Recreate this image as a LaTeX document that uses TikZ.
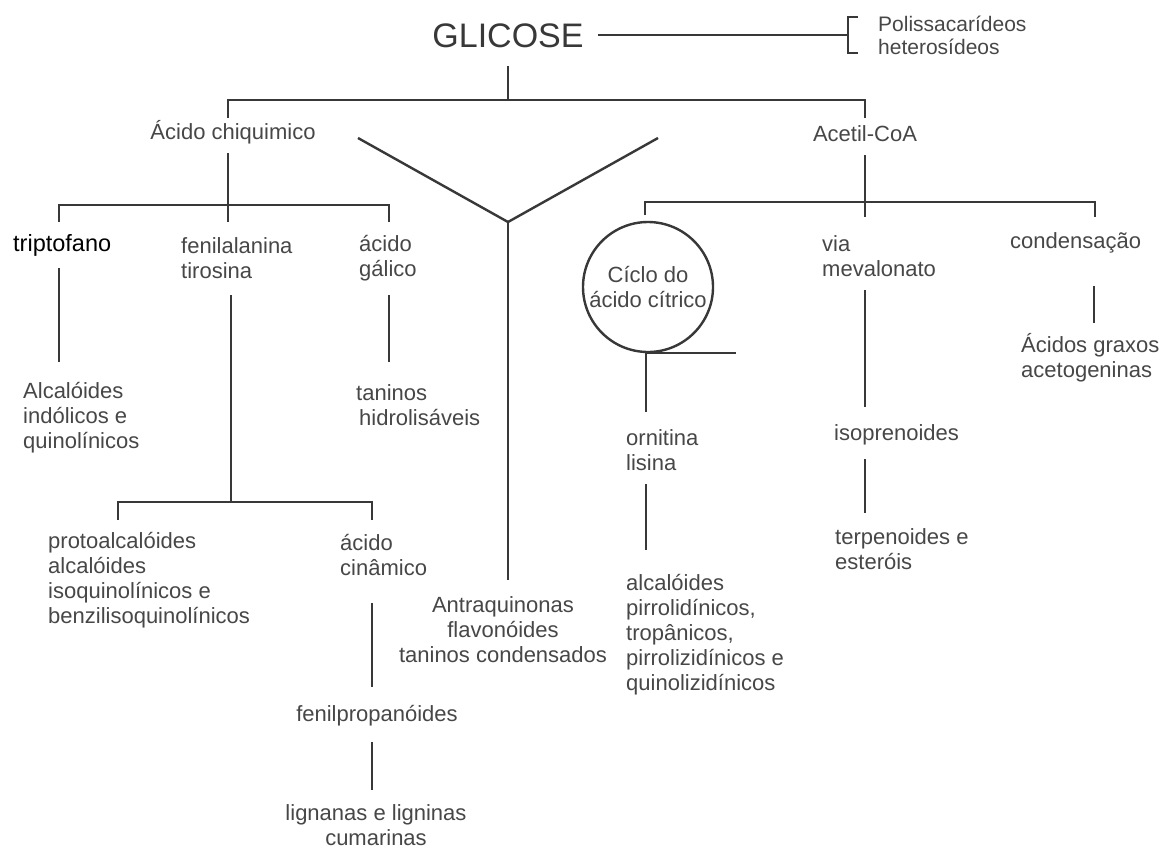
\documentclass[tikz,border=0pt]{standalone}
\usepackage{fontspec}
\setmainfont{Liberation Sans}
\definecolor{tx}{HTML}{474747}
\definecolor{lc}{HTML}{383838}
\begin{document}
\begin{tikzpicture}[x=1pt,y=-1pt,
  lbl/.style={font=\fontsize{22}{25}\selectfont, text=tx, inner sep=0pt, align=left},
  conn/.style={draw=lc, line width=2.4pt}]
\useasboundingbox[fill=white] (0,0) rectangle (1166,849);

% ---------- nodes ----------
\node[lbl, font=\fontsize{34}{36}\selectfont, text=lc] (glic) at (508,36) {GLICOSE};
\node[lbl, font=\fontsize{21}{23}\selectfont, anchor=west] (poli) at (878,35) {Polissacarídeos\\heterosídeos};
\node[lbl] (chiq) at (233,132) {Ácido chiquimico};
\node[lbl] (acetil) at (865,134) {Acetil-CoA};
\node[lbl, anchor=west, text=black, font=\fontsize{23.5}{26}\selectfont] (trip) at (13,245) {triptofano};
\node[lbl, anchor=west] (fenil) at (181,258) {fenilalanina\\tirosina};
\node[lbl, anchor=west] (galico) at (359,258) {ácido\\gálico};
\node[lbl, anchor=west] (alcind) at (23,418) {Alcalóides\\indólicos e\\quinolínicos};
\node[lbl, anchor=west] (taninos) at (356,405) {taninos\\\hspace{3pt}hidrolisáveis};
\node[lbl, anchor=west] (proto) at (48,580) {protoalcalóides\\alcalóides\\isoquinolínicos e\\benzilisoquinolínicos};
\node[lbl, anchor=west] (cinam) at (340,555) {ácido\\cinâmico};
\node[lbl] (fprop) at (377,716) {fenilpropanóides};
\node[lbl, align=center] (lign) at (376,825) {lignanas e ligninas\\cumarinas};
\node[lbl, align=center] (antra) at (503,630) {Antraquinonas\\flavonóides\\taninos condensados};
\node[lbl, align=center, circle, draw=lc, line width=2.4pt, minimum size=130pt] (ciclo) at (648,287) {Cíclo do\\ácido cítrico};
\node[lbl, anchor=west] (orn) at (626,450) {ornitina\\lisina};
\node[lbl, anchor=west] (alcpir) at (626,635) {alcalóides\\pirrolidínicos,\\tropânicos,\\pirrolizidínicos e\\quinolizidínicos};
\node[lbl, anchor=west] (via) at (822,256) {via\\mevalonato};
\node[lbl, anchor=west] (iso) at (834,435) {isoprenoides};
\node[lbl, anchor=west] (terp) at (835,549) {terpenoides e\\esteróis};
\node[lbl, anchor=west] (cond) at (1010,243) {condensação};
\node[lbl, anchor=west] (graxos) at (1021,358) {Ácidos graxos\\acetogeninas};

% ---------- coordinates ----------
\coordinate (gE) at (598,35);
\coordinate (bT) at (858,17);
\coordinate (bM) at (848,35);
\coordinate (bB) at (858,53);
\coordinate (gS) at (508,66);
\coordinate (topM) at (508,100);
\coordinate (topL) at (228,118);
\coordinate (topR) at (865,118);
\coordinate (chS) at (228,153);
\coordinate (b2M) at (228,222);
\coordinate (b2L) at (59,222);
\coordinate (b2R) at (389,222);
\coordinate (trS) at (59,268);
\coordinate (alN) at (59,362);
\coordinate (feS) at (231,295);
\coordinate (b3M) at (231,502);
\coordinate (b3L) at (118,520);
\coordinate (b3R) at (372,520);
\coordinate (gaS) at (389,295);
\coordinate (taN) at (389,362);
\coordinate (ciS) at (372,603);
\coordinate (fpN) at (372,687);
\coordinate (fpS) at (372,742);
\coordinate (liN) at (372,790);
\coordinate (yL) at (358,138);
\coordinate (yR) at (658,138);
\coordinate (yM) at (508,222);
\coordinate (anN) at (508,580);
\coordinate (acS) at (865,155);
\coordinate (b4M) at (865,217);
\coordinate (b4L) at (645,215);
\coordinate (b4R) at (1095,217);
\coordinate (viS) at (865,290);
\coordinate (isN) at (865,407);
\coordinate (coS) at (1094,286);
\coordinate (grN) at (1094,323);
\coordinate (cyB) at (646,353);
\coordinate (cyR) at (736,353);
\coordinate (orN) at (646,412);
\coordinate (orS) at (646,484);
\coordinate (apN) at (646,550);
\coordinate (isS) at (865,459);
\coordinate (teN) at (865,513);

% ---------- connectors ----------
\draw[conn] (gE) -- (bM);
\draw[conn] (bT) -- (848,17) -- (848,53) -- (bB);
\draw[conn] (gS) -- (topM);
\draw[conn] (topL) |- (topM) -| (topR);
\draw[conn] (chS) -- (b2M);
\draw[conn] (b2L) |- (228,205) -| (b2R);
\draw[conn] (trS) -- (alN);
\draw[conn] (feS) -- (b3M);
\draw[conn] (b3L) |- (b3M) -| (b3R);
\draw[conn] (gaS) -- (taN);
\draw[conn] (ciS) -- (fpN);
\draw[conn] (fpS) -- (liN);
\draw[conn] (yL) -- (yM) -- (yR);
\draw[conn] (yM) -- (anN);
\draw[conn] (acS) -- (b4M);
\draw[conn] (b4L) |- (865,202) -| (b4R);
\draw[conn] (viS) -- (isN);
\draw[conn] (coS) -- (grN);
\draw[conn] (cyB) -- (cyR);
\draw[conn] (cyB) -- (orN);
\draw[conn] (orS) -- (apN);
\draw[conn] (isS) -- (teN);
\end{tikzpicture}
\end{document}
